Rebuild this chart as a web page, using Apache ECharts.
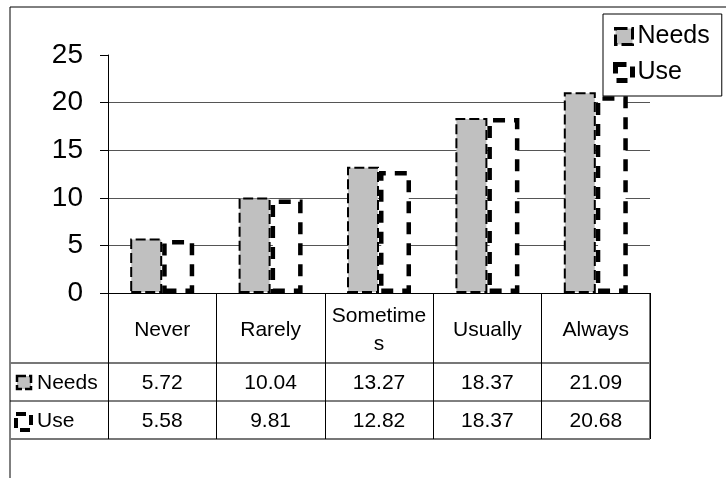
<!DOCTYPE html>
<html>
<head>
<meta charset="utf-8">
<script src="https://cdn.jsdelivr.net/npm/echarts@6/dist/echarts.min.js"></script>
<style>
  html, body { margin: 0; padding: 0; background: #fff; }
  #chart { width: 726px; height: 478px; }
</style>
</head>
<body>
<div id="chart"></div>
<script>
// Chart data
const categories = ['Never', 'Rarely', 'Sometimes', 'Usually', 'Always'];
const seriesNames = ['Needs', 'Use'];
const needsValues = [5.72, 10.04, 13.27, 18.37, 21.09];
const useValues = [5.58, 9.81, 12.82, 18.37, 20.68];
const yMin = 0, yMax = 25, yStep = 5;

// Layout & style
const FONT = '"Liberation Sans", Arial, sans-serif';
const GRID = { left: 108, top: 55, right: 76, bottom: 185 };
const TABLE_LEFT = 10;
const ROW_LINES = [363, 401, 439];  // bottom edges of header / Needs / Use rows

const chart = echarts.init(document.getElementById('chart'), null, { renderer: 'canvas' });

const needsStyle = {
  color: '#c0c0c0', borderColor: '#000', borderWidth: 2, borderType: [10, 4]
};
const useStyle = {
  color: '#fff', borderColor: '#000', borderWidth: 4.5, borderType: [12, 9]
};

chart.setOption({
  animation: false,
  backgroundColor: '#fff',
  textStyle: { fontFamily: FONT, color: '#000' },
  grid: { left: GRID.left, top: GRID.top, right: GRID.right, bottom: GRID.bottom, containLabel: false },
  legend: {
    data: [
      { name: seriesNames[0], itemStyle: { color: '#c0c0c0', borderColor: '#000', borderWidth: 3, borderType: [12, 4] } },
      { name: seriesNames[1], itemStyle: { color: '#fff', borderColor: '#000', borderWidth: 5, borderType: [11, 8] } }
    ],
    orient: 'vertical',
    left: 603, top: 14,
    padding: [10, 12, 11, 10],
    itemGap: 11,
    itemWidth: 17, itemHeight: 16,
    borderColor: '#000', borderWidth: 1, borderRadius: 0,
    backgroundColor: '#fff',
    icon: 'rect',
    textStyle: { fontFamily: FONT, fontSize: 25, color: '#000', padding: [0, 0, 0, 0] }
  },
  xAxis: {
    type: 'category',
    data: categories,
    boundaryGap: true,
    axisLine: { show: true, lineStyle: { color: '#000', width: 1 } },
    axisTick: { show: true, length: 146, lineStyle: { color: '#000', width: 1 } },
    axisLabel: {
      fontFamily: FONT, fontSize: 21, color: '#000',
      margin: 37, verticalAlign: 'middle', lineHeight: 28,
      width: 102, overflow: 'breakAll', interval: 0
    },
    splitLine: { show: false }
  },
  yAxis: {
    type: 'value',
    min: yMin, max: yMax, interval: yStep,
    axisLine: { show: true, lineStyle: { color: '#000', width: 1 } },
    axisTick: { show: true, inside: false, length: 8, lineStyle: { color: '#000', width: 1 } },
    axisLabel: { fontFamily: FONT, fontSize: 28, color: '#000', margin: 25 },
    splitLine: {
      show: true,
      lineStyle: { color: ['#000', '#555', '#555', '#555', '#555', 'rgba(0,0,0,0)'], width: 1 }
    }
  },
  series: [
    {
      name: seriesNames[0], type: 'bar', data: needsValues,
      barWidth: 32, barGap: '0%',
      itemStyle: needsStyle
    },
    {
      name: seriesNames[1], type: 'bar', data: useValues,
      barWidth: 32, barGap: '0%',
      itemStyle: useStyle
    }
  ]
});

// Data table and chart frame
function buildTable() {
  const axisY = chart.convertToPixel({ yAxisIndex: 0 }, yMin);
  const right = chart.getWidth() - GRID.right;
  const g = [];
  const line = (x1, y1, x2, y2, color, w) => g.push({
    type: 'line', silent: true,
    shape: { x1, y1, x2, y2 },
    style: { stroke: color, lineWidth: w }
  });

  // outer frame (left and top edges)
  line(TABLE_LEFT, 7, chart.getWidth(), 7, '#000', 1);
  line(TABLE_LEFT, 7, TABLE_LEFT, chart.getHeight(), '#000', 1);

  // table rules
  line(TABLE_LEFT, ROW_LINES[0], right, ROW_LINES[0], '#777', 2);
  line(TABLE_LEFT, ROW_LINES[1], right, ROW_LINES[1], '#000', 1);
  line(TABLE_LEFT, ROW_LINES[2], right, ROW_LINES[2], '#777', 2);
  line(right, axisY, right, ROW_LINES[2], '#777', 2);

  const rows = [
    { name: seriesNames[0], values: needsValues, style: needsStyle, top: ROW_LINES[0], bottom: ROW_LINES[1] },
    { name: seriesNames[1], values: useValues, style: useStyle, top: ROW_LINES[1], bottom: ROW_LINES[2] }
  ];
  rows.forEach((r, i) => {
    const cy = (r.top + r.bottom) / 2 + 1;
    // row key swatch
    g.push({
      type: 'rect', silent: true,
      shape: i === 0 ? { x: 17, y: cy - 7, width: 14, height: 13 } : { x: 16, y: cy - 7, width: 15, height: 16 },
      style: {
        fill: r.style.color, stroke: '#000',
        lineWidth: i === 0 ? 2.5 : 4,
        lineDash: i === 0 ? [9, 3] : [10, 6]
      }
    });
    g.push({
      type: 'text', silent: true,
      x: 37, y: cy,
      style: { text: r.name, font: '21px ' + FONT, fill: '#000', verticalAlign: 'middle', align: 'left' }
    });
    categories.forEach((c, j) => {
      const cx = chart.convertToPixel({ xAxisIndex: 0 }, c);
      g.push({
        type: 'text', silent: true,
        x: cx, y: cy,
        style: { text: r.values[j].toFixed(2), font: '21px ' + FONT, fill: '#000', align: 'center', verticalAlign: 'middle' }
      });
    });
  });
  chart.setOption({ graphic: { elements: g } });
}
buildTable();
</script>
</body>
</html>
